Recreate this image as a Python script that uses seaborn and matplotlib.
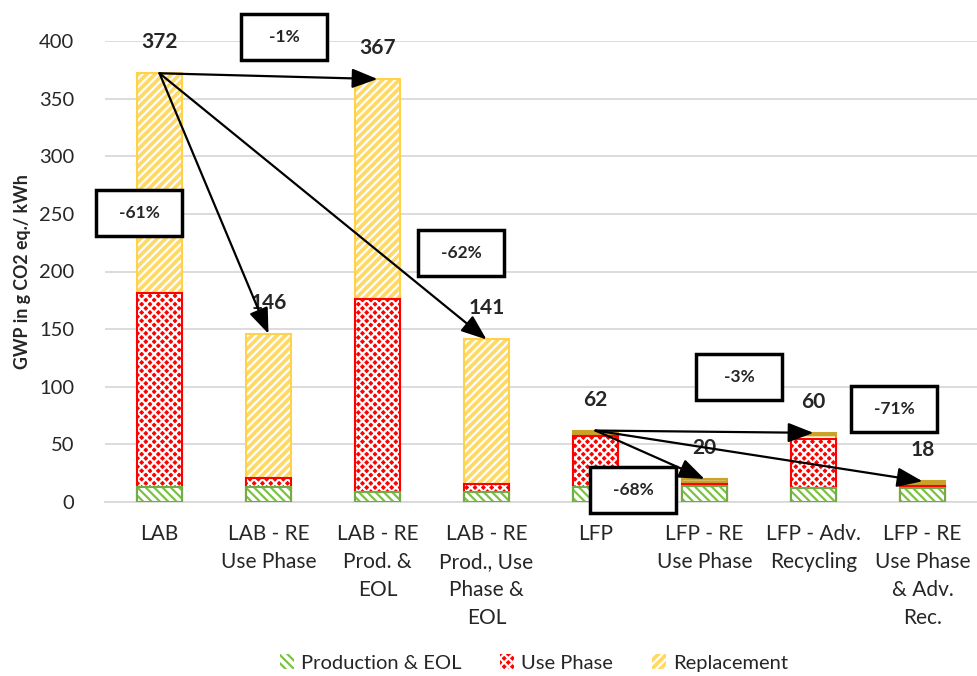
import matplotlib
matplotlib.use("Agg")
import matplotlib.pyplot as plt
from matplotlib.patches import Rectangle, Patch
import seaborn as sns
import pandas as pd
import numpy as np

categories = ["LAB", "LAB - RE\nUse Phase", "LAB - RE\nProd. &\nEOL",
              "LAB - RE\nProd., Use\nPhase &\nEOL", "LFP", "LFP - RE\nUse Phase",
              "LFP - Adv.\nRecycling", "LFP - RE\nUse Phase\n& Adv.\nRec."]
production_eol = [13, 13, 9, 9, 13, 14, 12, 12]
use_phase = [168, 8, 167, 7, 44, 2, 43, 2]
replacement = [191, 125, 191, 125, 5, 4, 5, 4]
totals = [372, 146, 367, 141, 62, 20, 60, 18]
yticks = [0, 50, 100, 150, 200, 250, 300, 350, 400]

# arrows: (from index, to index)
arrows = [(0, 2), (0, 1), (0, 3), (4, 6), (4, 5), (4, 7)]
change_labels = ["-1%", "-61%", "-62%", "-3%", "-71%", "-68%"]
# box centres in figure pixels (layout only)
box_centres = [(284, 37), (139, 213), (461, 253), (739, 377), (894, 409), (633, 490)]

sns.set_theme(style="white")
plt.rcParams["font.family"] = ["Lato", "DejaVu Sans"]
plt.rcParams["hatch.linewidth"] = 1.6

W, H = 977, 676
fig = plt.figure(figsize=(W / 100, H / 100), dpi=100)
ax = fig.add_axes([105 / W, 1 - 502 / H, 872 / W, 461 / H])

df = pd.DataFrame({"cat": categories,
                   "prod": production_eol,
                   "use": use_phase,
                   "rep": replacement})
df["c2"] = df["prod"] + df["use"]
df["c3"] = df["c2"] + df["rep"]

yellow, yellow_edge = "#FFD966", "#FFD24D"
gold = "#C9A227"
red = "#FF0000"
green = "#70AD47"
green_hatch = "#7CC242"

bw = 0.41
sns.barplot(data=df, x="cat", y="c3", color=yellow, width=bw, ax=ax, saturation=1, zorder=2)
sns.barplot(data=df, x="cat", y="c2", color=red, width=bw, ax=ax, saturation=1, zorder=3)
sns.barplot(data=df, x="cat", y="prod", color="white", width=bw, ax=ax, saturation=1, zorder=4)

styles = [
    (yellow, "white", "////", yellow_edge),
    (red, "white", "xxxx", red),
    ("white", green_hatch, "\\\\\\\\", green),
]
for ci, (cont, (fc, hc, hatch, ec)) in enumerate(zip(ax.containers, styles)):
    for bi, p in enumerate(cont.patches):
        face = fc
        edge = ec
        h = hatch
        if ci == 0 and bi >= 4:
            face, edge, h = gold, gold, "--"
        p.set_facecolor(face)
        p.set_edgecolor(hc)
        p.set_hatch(h)
        p.set_linewidth(0)
        ax.add_patch(Rectangle((p.get_x(), p.get_y()), p.get_width(), p.get_height(),
                               fill=False, edgecolor=edge, lw=1.5, zorder=p.get_zorder() + 0.1))

ax.set_ylim(0, 400)
ax.set_xlim(-0.5, len(categories) - 0.5)
ax.set_yticks(yticks)
ax.yaxis.grid(True, color="#D9D9D9", lw=1.3, zorder=0)
ax.set_axisbelow(True)
for s in ["top", "right", "left"]:
    ax.spines[s].set_visible(False)
ax.spines["bottom"].set_color("#D9D9D9")
ax.spines["bottom"].set_linewidth(1.3)
ax.tick_params(axis="y", labelsize=14.5, length=0, pad=22, colors="#262626")
ax.tick_params(axis="x", labelsize=15, length=0, pad=16, colors="#262626")
for t in ax.get_xticklabels():
    t.set_linespacing(1.5)
    t.set_va("top")
ax.set_xlabel("")
ax.set_ylabel("GWP in g CO2 eq./ kWh", fontsize=12.8, fontweight="bold", labelpad=6)

for i, tot in enumerate(totals):
    ax.annotate(str(tot), xy=(i, tot), xytext=(0, 31), textcoords="offset pixels",
                ha="center", va="center", fontsize=15, fontweight="bold", zorder=6)

for (a, b) in arrows:
    ax.annotate("", xy=(b, totals[b]), xytext=(a, totals[a]),
                arrowprops=dict(arrowstyle="-|>,head_length=1.3,head_width=0.5",
                                color="black", lw=1.6, shrinkA=0, shrinkB=0),
                zorder=7, annotation_clip=False)

bw_px, bh_px = 86, 46
for lab, (cx, cy) in zip(change_labels, box_centres):
    fig.patches.append(Rectangle(((cx - bw_px / 2) / W, 1 - (cy + bh_px / 2) / H),
                                 bw_px / W, bh_px / H, transform=fig.transFigure,
                                 facecolor="white", edgecolor="black", lw=2.5, zorder=8))
    fig.text(cx / W, 1 - cy / H, lab, ha="center", va="center", fontsize=12.5,
             fontweight="bold", zorder=9)

handles = [
    Patch(facecolor="white", edgecolor=green_hatch, hatch="\\\\\\\\", lw=0),
    Patch(facecolor=red, edgecolor="white", hatch="xxxx", lw=0),
    Patch(facecolor=yellow, edgecolor="white", hatch="////", lw=0),
]
fig.legend(handles, ["Production & EOL", "Use Phase", "Replacement"], loc="center",
           bbox_to_anchor=(534 / W, 1 - 663 / H), ncol=3, frameon=False, fontsize=14.5,
           handlelength=0.7, handleheight=0.7, handletextpad=0.35, columnspacing=1.9)

fig.savefig("out.png", dpi=100)
